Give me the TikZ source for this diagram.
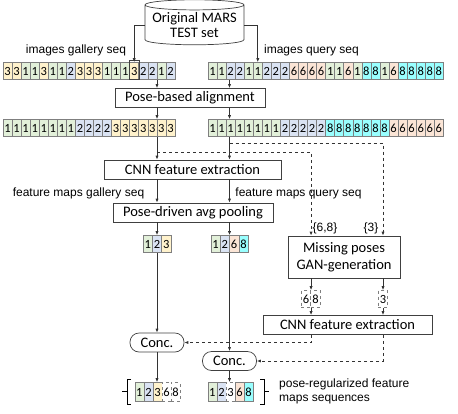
\documentclass[tikz,border=0pt]{standalone}
\usepackage{fontspec}
\setmainfont{Carlito}
\newfontfamily\labelfont{Liberation Sans}
\usetikzlibrary{positioning, shapes.geometric, arrows.meta}
\definecolor{pose_green}{RGB}{226, 240, 217}
\definecolor{pose_blue}{RGB}{218, 227, 243}
\definecolor{pose_yellow}{RGB}{255, 242, 204}
\definecolor{pose_pink}{RGB}{251, 229, 214}
\definecolor{pose_cyan}{RGB}{153, 255, 255}
\definecolor{cell_grey}{RGB}{127, 127, 127}
\colorlet{pose1}{pose_green}
\colorlet{pose2}{pose_blue}
\colorlet{pose3}{pose_yellow}
\colorlet{pose6}{pose_pink}
\colorlet{pose8}{pose_cyan}

\tikzset{
	cell/.style={draw=cell_grey, line width=0.6pt, minimum width=9.05pt, minimum height=17pt, inner sep=0pt, font=\fontsize{12.5}{13}\selectfont},
	gencell/.style={cell, dashed, fill=white},
	procbox/.style={draw=black!75, line width=0.7pt, minimum height=19pt, inner sep=0pt, font=\fontsize{14.5}{17}\selectfont},
	concbox/.style={procbox, rounded corners=9pt, minimum width=54pt},
	lbl/.style={font=\labelfont\fontsize{12}{14}\selectfont, inner sep=0pt},
	arr/.style={draw=black!80, line width=0.8pt, -{Latex[length=4pt, width=3.2pt]}},
	dsh/.style={arr, dashed},
}

\begin{document}
\begin{tikzpicture}[x=1pt, y=-1pt]
	\useasboundingbox (0,0) rectangle (458,413);
	% Columns of the two branches
	\coordinate (gx) at (157,0);
	\coordinate (qx) at (229.5,0);

	% Dataset
	\node[cylinder, shape border rotate=90, draw=black!75, line width=0.7pt, aspect=0.12, minimum width=99pt, minimum height=45pt, align=center, inner sep=0pt, font=\fontsize{14.5}{15}\selectfont] (mars) at (194.5,25) {Original MARS\\TEST set};

	% Raw sequences
	\foreach \p [count=\i] in {3,3,1,1,3,1,1,2,3,3,3,1,1,1,3,2,2,1,2}
		\node[cell, fill=pose\p] (g\i) at ({3+(\i-0.5)*9.05},71) {\p};
	\foreach \p [count=\i] in {1,1,2,2,1,1,2,2,2,6,6,6,6,1,1,6,1,8,8,1,6,8,8,8,8,8}
		\node[cell, fill=pose\p] (q\i) at ({208+(\i-0.5)*9.05},71) {\p};
	\draw[draw=black!75, line width=0.7pt] ([yshift=2pt]g15.north west) rectangle (g15.south east);

	\node[lbl] (gal_lbl) at (76,50) {images gallery seq};
	\node[lbl] (qry_lbl) at (311.5,50) {images query seq};
	\draw[arr] (mars.west) -| (g15.north);
	\draw[arr] (mars.east) -| (q6.north);

	% Alignment
	\node[procbox, minimum width=150pt] (align) at (190,98) {Pose-based alignment};
	\draw[arr] (g1.south -| gx) -- (align.north -| gx);
	\draw[arr] (q1.south -| qx) -- (align.north -| qx);

	% Aligned sequences
	\foreach \p [count=\i] in {1,1,1,1,1,1,1,1,2,2,2,2,3,3,3,3,3,3,3}
		\node[cell, fill=pose\p] (ga\i) at ({3+(\i-0.5)*9.05},128) {\p};
	\foreach \p [count=\i] in {1,1,1,1,1,1,1,1,2,2,2,2,2,8,8,8,8,8,8,8,6,6,6,6,6,6}
		\node[cell, fill=pose\p] (qa\i) at ({208+(\i-0.5)*9.05},128) {\p};
	\draw[arr] (align.south -| gx) -- (ga1.north -| gx);
	\draw[arr] (align.south -| qx) -- (qa1.north -| qx);

	% Feature extraction and pooling
	\node[procbox, minimum width=177pt] (cnn) at (192.5,169.5) {CNN feature extraction};
	\node[procbox, minimum width=160pt] (pool) at (193,212.5) {Pose-driven avg pooling};
	\draw[arr] (ga1.south -| gx) -- (cnn.north -| gx);
	\draw[arr] (qa1.south -| qx) -- (cnn.north -| qx);
	\draw[arr] (cnn.south -| gx) -- (pool.north -| gx);
	\draw[arr] (cnn.south -| qx) -- (pool.north -| qx);
	\node[lbl] (fgal_lbl) at (78.5,193) {feature maps gallery seq};
	\node[lbl] (fqry_lbl) at (298.5,193) {feature maps query seq};

	% Pooled sequences
	\foreach \p [count=\i] in {1,2,3}
		\node[cell, fill=pose\p, minimum width=9.3pt] (gp\i) at ({157+(\i-2)*9.3},244) {\p};
	\foreach \p [count=\i] in {1,2,6,8}
		\node[cell, fill=pose\p, minimum width=9.3pt] (qp\i) at ({229.5+(\i-2.5)*9.3},244) {\p};
	\draw[arr] (pool.south -| gx) -- (gp1.north -| gx);
	\draw[arr] (pool.south -| qx) -- (qp1.north -| qx);

	% Missing poses
	\coordinate (gsplit) at (157,152);
	\coordinate (qsplit) at (229.5,143);
	\node[procbox, align=center, minimum width=112pt, minimum height=42pt] (gan) at (344,257) {Missing poses\\GAN-generation};
	\node[gencell, minimum width=9.5pt] (gen6) at (306,299) {6};
	\node[gencell, minimum width=9.5pt] (gen8) at (315.5,299) {8};
	\node[gencell, minimum width=9.5pt] (gen3) at (383,299) {3};
	\draw[dsh] (gsplit) -| (gan.north -| gen6.east);
	\draw[dsh] (qsplit) -| (gan.north -| gen3);
	\node[lbl] (miss_g) at (325,228) {\{6,8\}};
	\node[lbl] (miss_q) at (371,228) {\{3\}};
	\draw[arr] (gan.south -| gen6.east) -- (gen6.north east);
	\draw[arr] (gan.south -| gen3) -- (gen3.north);

	\node[procbox, minimum width=169pt] (cnn2) at (347.5,325) {CNN feature extraction};
	\draw[arr] (gen6.south east) -- (cnn2.north -| gen6.east);
	\draw[arr] (gen3.south) -- (cnn2.north -| gen3);

	% Concatenation
	\node[concbox] (concg) at (157,342.5) {Conc.};
	\node[concbox] (concq) at (229.5,361) {Conc.};
	\draw[arr] (gp2.south) -- (concg.north);
	\draw[arr] (qp1.south -| qx) -- (concq.north);
	\draw[dsh] (cnn2.south -| gen6.east) |- (concg.east);
	\draw[dsh] (cnn2.south -| gen3) |- (concq.east);

	% Final sequences
	\foreach \p/\st [count=\i] in {1/cell,2/cell,3/cell,6/gencell,8/gencell}
		\node[fill=pose\p, \st, minimum height=19pt] (gf\i) at ({157.5+(\i-3)*9.05},392) {\p};
	\foreach \p/\st [count=\i] in {1/cell,2/cell,3/gencell,6/cell,8/cell}
		\node[fill=pose\p, \st, minimum height=19pt] (qf\i) at ({230.5+(\i-3)*9.05},392) {\p};
	\draw[arr] (concg.south) -- (concg.south |- gf1.north);
	\draw[arr] (concq.south) -- (concq.south |- qf1.north);

	% Brackets
	\draw[line width=0.7pt] (131,379) -- (127,379) -- (127,404) -- (131,404);
	\draw[line width=0.7pt] (127,391.5) -- (122,391.5);
	\draw[line width=0.7pt] (260,379) -- (264,379) -- (264,404) -- (260,404);
	\draw[line width=0.7pt] (264,391.5) -- (269,391.5);
	\node[lbl, anchor=west, align=left] (out_lbl) at (279,391.5) {pose-regularized feature\\maps sequences};
\end{tikzpicture}
\end{document}
